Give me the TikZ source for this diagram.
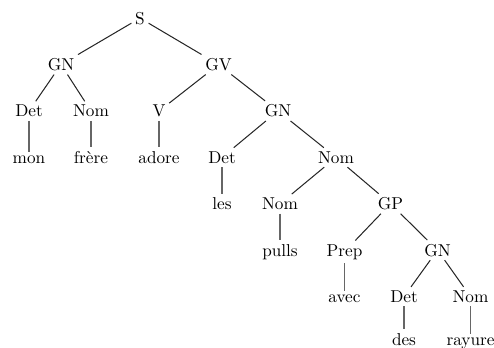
\documentclass[tikz,border=0pt]{standalone}
\usepackage{tikz}
\tikzset{
  cat/.style={anchor=base, inner sep=2pt, font=\normalsize, text=black},
  branch/.style={line width=0.6pt, draw=black!85},
  stem/.style={line width=0.6pt, draw=black!60},
}
\begin{document}
\begin{tikzpicture}[x=0.581pt, y=-0.581pt]
\useasboundingbox (0,0) rectangle (494,348);
% level baselines
\def\rA{24}\def\rB{70.4}\def\rC{116.8}\def\rD{163.2}
\def\rE{209.6}\def\rF{256}\def\rG{302.4}\def\rH{345}
% nodes
\node[cat] (s)     at (140,\rA) {S};
\node[cat] (gn1)   at (61,\rB)  {GN};
\node[cat] (gv)    at (218.5,\rB) {GV};
\node[cat] (det1)  at (29,\rC)  {Det};
\node[cat] (nom1)  at (91,\rC)  {Nom};
\node[cat] (v)     at (159,\rC) {V};
\node[cat] (gn2)   at (278,\rC) {GN};
\node[cat] (mon)   at (29,\rD)  {mon};
\node[cat] (frere) at (91,\rD)  {frère};
\node[cat] (adore) at (159,\rD) {adore};
\node[cat] (det2)  at (222,\rD) {Det};
\node[cat] (nom2)  at (336,\rD) {Nom};
\node[cat] (les)   at (222,\rE) {les};
\node[cat] (nom3)  at (280,\rE) {Nom};
\node[cat] (gp)    at (390.5,\rE) {GP};
\node[cat] (pulls) at (280,\rF) {pulls};
\node[cat] (prep)  at (344.5,\rF) {Prep};
\node[cat] (gn3)   at (437.5,\rF) {GN};
\node[cat] (avec)  at (344.5,\rG) {avec};
\node[cat] (det3)  at (404,\rG) {Det};
\node[cat] (nom4)  at (470.5,\rG) {Nom};
\node[cat] (des)   at (404,\rH) {des};
\node[cat] (rayure) at (470.5,\rH) {rayure};
% branches
\draw[branch] (s) -- (gn1);
\draw[branch] (s) -- (gv);
\draw[branch] (gn1) -- (det1);
\draw[branch] (gn1) -- (nom1);
\draw[stem] (det1) -- (mon);
\draw[stem] (nom1) -- (frere);
\draw[branch] (gv) -- (v);
\draw[branch] (gv) -- (gn2);
\draw[stem] (v) -- (adore);
\draw[branch] (gn2) -- (det2);
\draw[branch] (gn2) -- (nom2);
\draw[stem] (det2) -- (les);
\draw[branch] (nom2) -- (nom3);
\draw[branch] (nom2) -- (gp);
\draw[stem] (nom3) -- (pulls);
\draw[branch] (gp) -- (prep);
\draw[branch] (gp) -- (gn3);
\draw[stem] (prep) -- (avec);
\draw[branch] (gn3) -- (det3);
\draw[branch] (gn3) -- (nom4);
\draw[stem] (det3) -- (des);
\draw[stem] (nom4) -- (rayure);
\end{tikzpicture}
\end{document}
